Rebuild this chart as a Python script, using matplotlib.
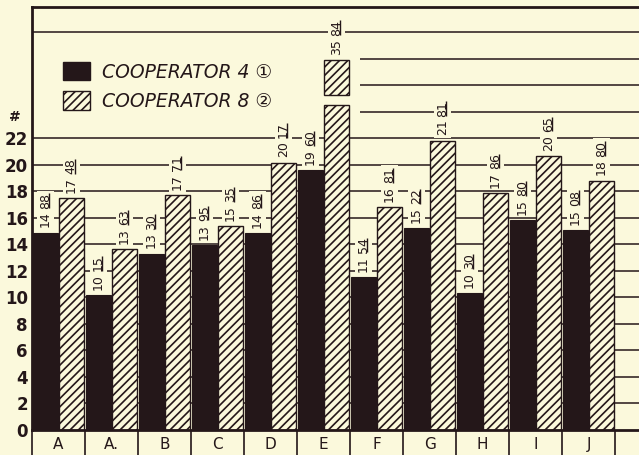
import numpy as np
import matplotlib.pyplot as plt
import matplotlib.transforms as mtransforms
from matplotlib.patches import Patch, Rectangle

# values (the numbers lettered above each bar)
categories = ["A", "A.", "B", "C", "D", "E", "F", "G", "H", "I", "J"]
coop4 = [14.88, 10.15, 13.30, 13.95, 14.86, 19.60, 11.54, 15.22, 10.30, 15.80, 15.08]
coop8 = [17.48, 13.63, 17.71, 15.35, 20.17, 35.84, 16.81, 21.81, 17.86, 20.65, 18.80]
yticks = list(range(0, 23, 2))
grid_levels = list(range(2, 31, 2))

# the off-scale bar (E) is drawn broken, like the original
break_lo, break_hi, stub_top = 24.5, 25.3, 27.9

BG = "#fbf9dc"
INK = "#241719"

plt.rcParams['hatch.linewidth'] = 1.2
plt.rcParams['font.family'] = ['DejaVu Sans', 'Noto Sans CJK SC']

fig = plt.figure(figsize=(6.39, 4.55), dpi=100, facecolor=BG)
ax = fig.add_axes([32/639, 1-430/455, 607/639, 423/455], facecolor=BG)

x = np.arange(len(categories))
w = 0.47
ax.hlines(grid_levels, -0.5, 11.0, color=INK, lw=1.1, zorder=0.5)
# blank patch where the legend sits (the grid is not ruled there)
ax.add_patch(Rectangle((0, 0.721), 0.54, 0.2, transform=ax.transAxes,
                       fc=BG, ec='none', zorder=1))

ax.bar(x - 0.25, coop4, width=w, color=INK, edgecolor=INK, lw=0.8, zorder=2)

shown8 = [min(v, break_lo) for v in coop8]
ax.bar(x + 0.24, shown8, width=w, color=BG, edgecolor=INK, lw=1.0,
       hatch='////', zorder=2)

labels = []  # (x, top of mark, value)
for i, v in enumerate(coop4):
    labels.append((x[i] - 0.25, v, v))
for i, v in enumerate(coop8):
    if v > break_lo:
        ax.bar(x[i] + 0.24, stub_top - break_hi, bottom=break_hi, width=w,
               color=BG, edgecolor=INK, lw=1.0, hatch='////', zorder=2)
        labels.append((x[i] + 0.24, stub_top, v))
    else:
        labels.append((x[i] + 0.24, v, v))

ax.set_xlim(-0.5, 10.95)
ax.set_ylim(0, 31.9)

ax.set_yticks(yticks)
ax.set_yticklabels([str(t) for t in yticks], fontsize=12, fontweight='bold', color=INK)
ax.tick_params(axis='y', length=0, pad=3)
trans = mtransforms.blended_transform_factory(ax.transAxes, ax.transData)
ax.text(-0.028, 23.6, "#", transform=trans, ha='center', va='center',
        fontsize=10, fontweight='bold', color=INK)

ax.set_xticks(x)
ax.set_xticklabels(categories, fontsize=11, color=INK)
ax.tick_params(axis='x', which='major', length=0, pad=5)
ax.set_xticks(np.arange(len(categories) + 1) - 0.5, minor=True)
ax.tick_params(axis='x', which='minor', length=18, width=1.2, direction='out', color=INK)

for side in ['left', 'top', 'bottom']:
    ax.spines[side].set_linewidth(2)
    ax.spines[side].set_color(INK)
ax.spines['right'].set_visible(False)

# value labels: whole part, then the decimals underlined (rotated text,
# so the underline ends up on the right of the digits)
renderer = fig.canvas.get_renderer()
inv = ax.transData.inverted()
txt_kw = dict(rotation=90, ha='center', va='bottom', fontsize=9, color=INK,
              zorder=4, bbox=dict(fc=BG, ec='none', pad=1.5))
for xc, top, v in labels:
    whole, dec = f"{v:.2f}".split(".")
    t1 = ax.text(xc, top + 0.4, whole, **txt_kw)
    e1 = t1.get_window_extent(renderer)
    y2 = inv.transform((0, e1.y1 + 3))[1]
    t2 = ax.text(xc, y2, dec, **txt_kw)
    e2 = t2.get_window_extent(renderer)
    p0 = inv.transform((e2.x1 - 2.5, e2.y0 + 0.5))
    p1 = inv.transform((e2.x1 - 2.5, e2.y1 - 0.5))
    ax.plot([p0[0], p1[0]], [p0[1], p1[1]], color=INK, lw=1.0, zorder=5,
            solid_capstyle='butt')

handles = [Patch(fc=INK, ec=INK), Patch(fc=BG, ec=INK, hatch='////')]
leg = ax.legend(handles, ["COOPERATOR 4 \u2460", "COOPERATOR 8 \u2461"],
                loc='upper left', bbox_to_anchor=(0.014, 0.923), borderaxespad=0,
                borderpad=1.2, handlelength=1.44, handleheight=1.12, handletextpad=0.64,
                labelspacing=0.53, frameon=False,
                prop={'style': 'italic', 'size': 13.5})
leg.set_zorder(5)
for t in leg.get_texts():
    t.set_color(INK)

fig.savefig("out.png", dpi=100, facecolor=BG)
